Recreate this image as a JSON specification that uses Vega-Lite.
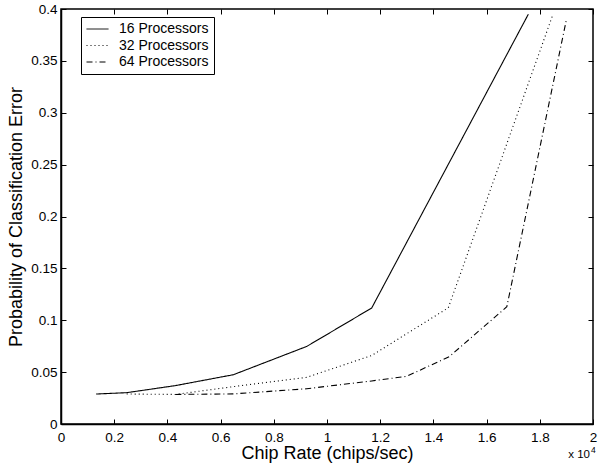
{
  "$schema": "https://vega.github.io/schema/vega-lite/v6.json",
  "width": 532,
  "height": 415,
  "autosize": {"type": "none"},
  "padding": {"left": 61, "top": 9, "right": 6, "bottom": 39},
  "background": "white",
  "config": {
    "font": "Liberation Sans",
    "view": {"stroke": "black", "strokeWidth": 1.5},
    "axis": {
      "grid": false,
      "domainColor": "black",
      "domainWidth": 1.5,
      "tickColor": "black",
      "tickWidth": 1,
      "tickSize": -5,
      "labelColor": "black",
      "labelFontSize": 13.5,
      "labelFont": "Liberation Sans",
      "labelFlush": false,
      "labelOverlap": false,
      "titleColor": "black",
      "titleFont": "Liberation Sans",
      "titleFontSize": 18,
      "titleFontWeight": "normal"
    }
  },
  "datasets": {
    "curves": [
      {"series": "16 Processors", "chip_rate_1e4": 0.132, "p_error": 0.0289},
      {"series": "16 Processors", "chip_rate_1e4": 0.247, "p_error": 0.0302},
      {"series": "16 Processors", "chip_rate_1e4": 0.43, "p_error": 0.037},
      {"series": "16 Processors", "chip_rate_1e4": 0.648, "p_error": 0.0475},
      {"series": "16 Processors", "chip_rate_1e4": 0.924, "p_error": 0.0748},
      {"series": "16 Processors", "chip_rate_1e4": 1.168, "p_error": 0.1118},
      {"series": "16 Processors", "chip_rate_1e4": 1.757, "p_error": 0.395},
      {"series": "32 Processors", "chip_rate_1e4": 0.247, "p_error": 0.0289},
      {"series": "32 Processors", "chip_rate_1e4": 0.43, "p_error": 0.0285},
      {"series": "32 Processors", "chip_rate_1e4": 0.648, "p_error": 0.036},
      {"series": "32 Processors", "chip_rate_1e4": 0.924, "p_error": 0.045},
      {"series": "32 Processors", "chip_rate_1e4": 1.168, "p_error": 0.066},
      {"series": "32 Processors", "chip_rate_1e4": 1.456, "p_error": 0.112},
      {"series": "32 Processors", "chip_rate_1e4": 1.847, "p_error": 0.393},
      {"series": "64 Processors", "chip_rate_1e4": 0.43, "p_error": 0.0285},
      {"series": "64 Processors", "chip_rate_1e4": 0.648, "p_error": 0.029},
      {"series": "64 Processors", "chip_rate_1e4": 0.924, "p_error": 0.034},
      {"series": "64 Processors", "chip_rate_1e4": 1.168, "p_error": 0.0415},
      {"series": "64 Processors", "chip_rate_1e4": 1.3, "p_error": 0.046},
      {"series": "64 Processors", "chip_rate_1e4": 1.46, "p_error": 0.065},
      {"series": "64 Processors", "chip_rate_1e4": 1.676, "p_error": 0.113},
      {"series": "64 Processors", "chip_rate_1e4": 1.901, "p_error": 0.391}
    ],
    "note": [
      {"chip_rate_1e4": 2, "p_error": 0, "base": "x 10", "exp": "4"}
    ]
  },
  "layer": [
    {
      "data": {"name": "curves"},
      "mark": {"type": "line", "color": "black", "strokeWidth": 1.1},
      "encoding": {
        "x": {
          "field": "chip_rate_1e4", "type": "quantitative",
          "scale": {"domain": [0, 2], "nice": false, "zero": false},
          "axis": {
            "orient": "bottom",
            "values": [0, 0.2, 0.4, 0.6, 0.8, 1, 1.2, 1.4, 1.6, 1.8, 2],
            "format": "~g",
            "labelPadding": 11,
            "title": "Chip Rate (chips/sec)",
            "titlePadding": 1
          }
        },
        "y": {
          "field": "p_error", "type": "quantitative",
          "scale": {"domain": [0, 0.4], "nice": false, "zero": false},
          "axis": {
            "orient": "left",
            "values": [0, 0.05, 0.1, 0.15, 0.2, 0.25, 0.3, 0.35, 0.4],
            "format": "~g",
            "labelPadding": 9,
            "title": "Probability of Classification Error",
            "titlePadding": 5
          }
        },
        "strokeDash": {
          "field": "series", "type": "nominal",
          "scale": {
            "domain": ["16 Processors", "32 Processors", "64 Processors"],
            "range": [[1, 0], [1, 3], [6, 3, 1, 3]]
          },
          "legend": {
            "orient": "none",
            "legendX": 20,
            "legendY": 8,
            "title": null,
            "strokeColor": "black",
            "fillColor": "white",
            "padding": 5,
            "symbolType": "stroke",
            "symbolSize": 484,
            "symbolStrokeWidth": 1,
            "symbolStrokeColor": "black",
            "labelFontSize": 14,
            "labelFont": "Liberation Sans",
            "labelColor": "black",
            "labelOffset": 10,
            "clipHeight": 14,
            "rowPadding": 2.5
          }
        },
        "order": {"field": "chip_rate_1e4", "type": "quantitative"}
      }
    },
    {
      "data": {"name": "curves"},
      "mark": {"type": "point", "opacity": 0},
      "encoding": {
        "x": {
          "field": "chip_rate_1e4", "type": "quantitative",
          "axis": {
            "orient": "top",
            "values": [0, 0.2, 0.4, 0.6, 0.8, 1, 1.2, 1.4, 1.6, 1.8, 2],
            "labels": false,
            "domain": false,
            "title": null
          }
        },
        "y": {
          "field": "p_error", "type": "quantitative",
          "axis": {
            "orient": "right",
            "values": [0, 0.05, 0.1, 0.15, 0.2, 0.25, 0.3, 0.35, 0.4],
            "labels": false,
            "domain": false,
            "title": null
          }
        }
      }
    },
    {
      "data": {"name": "note"},
      "mark": {"type": "text", "align": "right", "baseline": "alphabetic", "fontSize": 11.5, "font": "Liberation Sans", "color": "black", "dx": -3, "dy": 34},
      "encoding": {
        "x": {"field": "chip_rate_1e4", "type": "quantitative", "axis": null},
        "y": {"field": "p_error", "type": "quantitative", "axis": null},
        "text": {"field": "base"}
      }
    },
    {
      "data": {"name": "note"},
      "mark": {"type": "text", "align": "left", "baseline": "alphabetic", "fontSize": 8.5, "font": "Liberation Sans", "color": "black", "dx": -2, "dy": 29},
      "encoding": {
        "x": {"field": "chip_rate_1e4", "type": "quantitative", "axis": null},
        "y": {"field": "p_error", "type": "quantitative", "axis": null},
        "text": {"field": "exp"}
      }
    }
  ],
  "resolve": {"axis": {"x": "independent", "y": "independent"}}
}
